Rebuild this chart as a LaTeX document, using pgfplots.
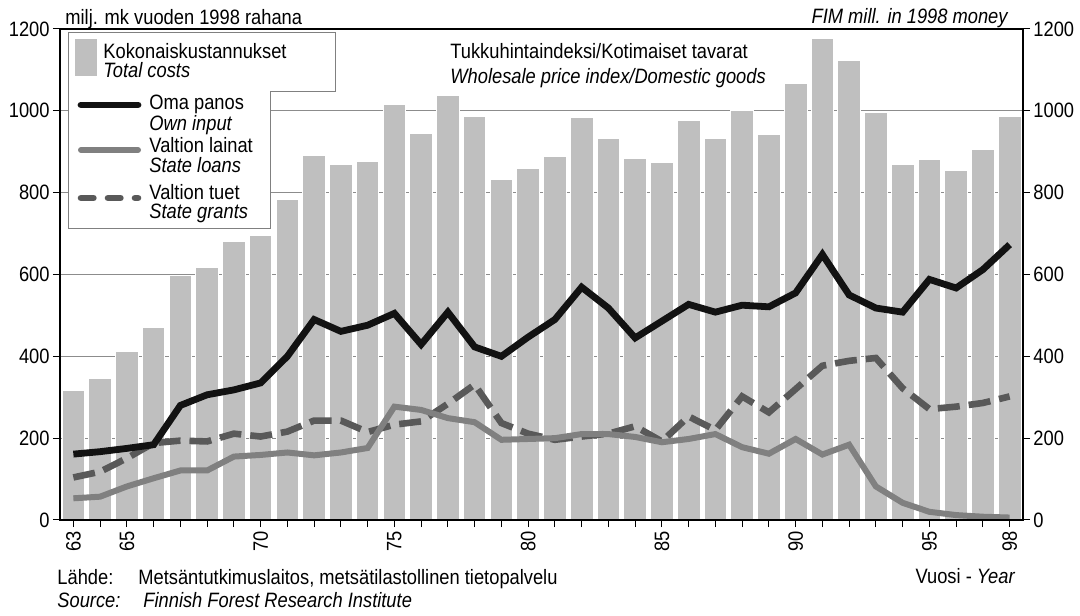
\documentclass[border=0pt]{standalone}
\usepackage{fontspec}
\setmainfont{Liberation Sans}[FakeStretch=0.88]
\usepackage{pgfplots}
\pgfplotsset{compat=1.18}
\usepackage{pgfplotstable}

\pgfplotstableread{
year bars oma lainat tuet
63 316 161 53 104
64 345 167 57 118
65 413 175 82 151
66 470 184 102 188
67 597 280 121 194
68 617 306 121 192
69 681 318 155 211
70 696 335 159 204
71 784 400 165 216
72 891 490 158 243
73 870 461 165 243
74 876 476 176 215
75 1015 505 277 233
76 945 429 269 241
77 1037 508 249 284
78 985 423 239 331
79 833 400 196 237
80 860 447 198 211
81 889 490 200 196
82 984 569 210 204
83 932 518 210 211
84 883 445 203 229
85 874 486 190 192
86 976 527 198 253
87 933 508 210 220
88 1002 525 178 302
89 943 521 162 263
90 1067 555 198 320
91 1176 649 160 377
92 1122 550 184 389
93 996 518 82 396
94 869 508 42 322
95 880 588 20 271
96 855 567 12 277
97 905 612 8 286
98 985 673 6 302
}\datatable

\definecolor{barc}{HTML}{BFBFBF}
\definecolor{loanc}{HTML}{808080}
\definecolor{grantc}{HTML}{595959}
\definecolor{gridc}{HTML}{8C8C8C}
\definecolor{linec}{HTML}{121212}

\begin{document}
\fontsize{10.4}{12}\selectfont
\begin{tikzpicture}[x=0.5pt,y=0.5pt]
\path[use as bounding box] (0,0) rectangle (1080,615);
\begin{axis}[
  at={(30pt,47.5pt)}, anchor=south west,
  scale only axis, width=481.5pt, height=245.5pt,
  xmin=62.5, xmax=98.5, ymin=0, ymax=1200,
  xtick={63,...,98},
  xticklabels={63,,65,,,,,70,,,,,75,,,,,80,,,,,85,,,,,90,,,,,95,,,98},
  xtick pos=bottom,
  ytick={0,200,...,1200}, ytick pos=left,
  tick align=outside, major tick length=3.5pt,
  tick style={black, line width=0.5pt},
  ymajorgrids, grid style={gridc, line width=0.5pt},
  axis line style={black, line width=0.6pt},
  xticklabel style={rotate=90, anchor=east, inner sep=2pt},
  yticklabel style={inner sep=1.5pt},
  /pgf/number format/1000 sep={},
  /pgf/number format/assume math mode=true,
]
\addplot[ybar, bar width=0.85, fill=barc, draw=white, line width=0.5pt] table[x=year,y=bars]{\datatable};
\addplot[grantc, line width=3.3pt, dash pattern=on 11pt off 4.5pt] table[x=year,y=tuet]{\datatable};
\addplot[loanc, line width=3pt] table[x=year,y=lainat]{\datatable};
\addplot[linec, line width=3.4pt] table[x=year,y=oma]{\datatable};
\draw[black, line width=0.6pt] (rel axis cs:0,0) rectangle (rel axis cs:1,1);
\end{axis}
\begin{axis}[
  at={(30pt,47.5pt)}, anchor=south west,
  scale only axis, width=481.5pt, height=245.5pt,
  xmin=62.5, xmax=98.5, ymin=0, ymax=1200,
  axis x line=none, axis y line*=right,
  ytick={0,200,...,1200},
  tick align=outside, major tick length=3.5pt,
  tick style={black, line width=0.5pt},
  axis line style={black, line width=0.6pt},
  yticklabel style={inner sep=1.5pt},
  /pgf/number format/1000 sep={},
  /pgf/number format/assume math mode=true,
]
\addplot[draw=none] coordinates {(63,0)};
\end{axis}
% legend box
\draw[loanc, line width=0.5pt, fill=white] (68,582) -- (335,582) -- (335,523) -- (270,523) -- (270,386) -- (68,386) -- cycle;
\fill[barc] (75,539) rectangle (97,576);
\draw[linec, line width=3.4pt, line cap=round] (81,510) -- (138,510);
\draw[loanc, line width=3pt, line cap=round] (81,465) -- (138,465);
\draw[grantc, line width=3.3pt, line cap=round, dash pattern=on 6.2pt off 7.3pt] (81,417) -- (138,417);
\node[anchor=base west, inner sep=0] at (103,556.5) {Kokonaiskustannukset};
\node[anchor=base west, inner sep=0] at (103,537) {\itshape Total costs};
\node[anchor=base west, inner sep=0] at (149,505) {Oma panos};
\node[anchor=base west, inner sep=0] at (149,484) {\itshape Own input};
\node[anchor=base west, inner sep=0] at (149,462.3) {Valtion lainat};
\node[anchor=base west, inner sep=0] at (149,442.3) {\itshape State loans};
\node[anchor=base west, inner sep=0] at (149,415.5) {Valtion tuet};
\node[anchor=base west, inner sep=0] at (149,396.5) {\itshape State grants};
% index note
\node[anchor=base west, inner sep=0] at (450,556.7) {Tukkuhintaindeksi/Kotimaiset tavarat};
\node[anchor=base west, inner sep=0] at (450,531.7) {\itshape Wholesale price index/Domestic goods};
% units
\node[anchor=base west, inner sep=0] at (65,590.5) {milj. mk vuoden 1998 rahana};
\node[anchor=base east, inner sep=0] at (1008,591.5) {\itshape FIM mill. in 1998 money};
% footer
\node[anchor=base west, inner sep=0] at (57,31) {Lähde:};
\node[anchor=base west, inner sep=0] at (138,31) {Metsäntutkimuslaitos, metsätilastollinen tietopalvelu};
\node[anchor=base west, inner sep=0] at (57,8) {\itshape Source:};
\node[anchor=base west, inner sep=0] at (143,8) {\itshape Finnish Forest Research Institute};
\node[anchor=base east, inner sep=0] at (1015,32) {Vuosi - \itshape Year};
\end{tikzpicture}
\end{document}
